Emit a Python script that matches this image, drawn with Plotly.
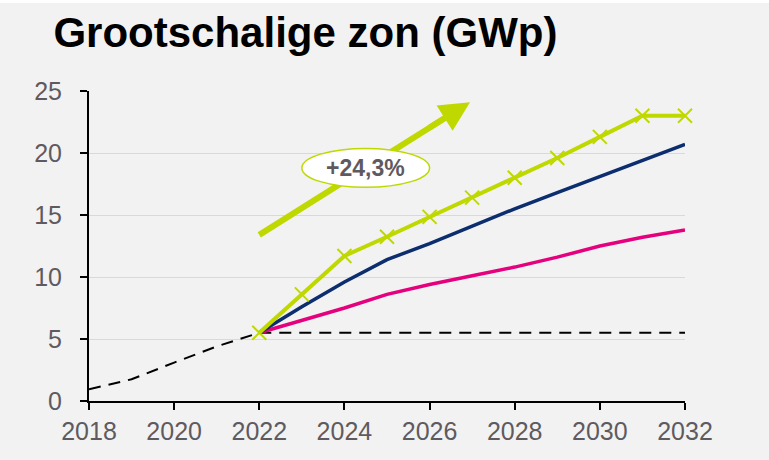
import plotly.graph_objects as go

years_hist = [2018, 2019, 2020, 2021, 2022]
hist_vals = [0.95, 1.75, 3.1, 4.4, 5.5]

years_proj = list(range(2022, 2033))
flat_vals = [5.5] * len(years_proj)
green_vals = [5.5, 8.6, 11.7, 13.25, 14.85, 16.4, 18.0, 19.6, 21.3, 23.0, 23.0]
navy_vals = [5.5, 7.6, 9.6, 11.4, 12.7, 14.1, 15.5, 16.8, 18.1, 19.4, 20.7]
pink_vals = [5.5, 6.5, 7.5, 8.6, 9.4, 10.1, 10.8, 11.6, 12.5, 13.2, 13.8]

x_ticks = [2018, 2020, 2022, 2024, 2026, 2028, 2030, 2032]
y_ticks = [0, 5, 10, 15, 20, 25]

arrow_start = (2022.0, 13.4)
arrow_end = (2026.95, 24.1)
label_text = "+24,3%"
label_center = (2024.5, 18.8)

GREEN = "#bfd800"
NAVY = "#0c2d6e"
PINK = "#e5007d"
GRAY_TXT = "#5f5a60"
BG = "#f2f2f2"

fig = go.Figure()
fig.add_trace(go.Scatter(x=years_hist, y=hist_vals, mode="lines",
                         line=dict(color="black", width=2, dash="12px,8px"),
                         cliponaxis=False, hoverinfo="skip"))
fig.add_trace(go.Scatter(x=years_proj, y=flat_vals, mode="lines",
                         line=dict(color="black", width=2, dash="12px,8px"),
                         cliponaxis=False, hoverinfo="skip"))
fig.add_trace(go.Scatter(x=years_proj, y=pink_vals, mode="lines",
                         line=dict(color=PINK, width=3.5), cliponaxis=False))
fig.add_trace(go.Scatter(x=years_proj, y=navy_vals, mode="lines",
                         line=dict(color=NAVY, width=3.5), cliponaxis=False))
fig.add_trace(go.Scatter(x=years_proj, y=green_vals, mode="lines+markers",
                         line=dict(color=GREEN, width=4),
                         marker=dict(symbol="x-thin", size=14,
                                     line=dict(color=GREEN, width=2)),
                         cliponaxis=False))

# white strip at the very top of the picture
fig.add_shape(type="rect", xref="paper", yref="paper",
              x0=-0.2, x1=1.2, y0=1.284, y1=1.35,
              fillcolor="white", line=dict(width=0), layer="below")

# arrow shaft (shape below the ellipse), ellipse label, arrow head
fig.add_shape(type="line", xref="x", yref="y",
              x0=arrow_start[0], y0=arrow_start[1],
              x1=arrow_start[0] + (arrow_end[0] - arrow_start[0]) * 0.9,
              y1=arrow_start[1] + (arrow_end[1] - arrow_start[1]) * 0.9,
              line=dict(color=GREEN, width=6), layer="above")
cx, cy = label_center
fig.add_shape(type="circle", xref="x", yref="y",
              x0=cx - 1.5, x1=cx + 1.5, y0=cy - 1.57, y1=cy + 1.57,
              fillcolor="white", line=dict(color=GREEN, width=1.5), layer="above")
fig.add_annotation(x=arrow_end[0], y=arrow_end[1], xref="x", yref="y",
                   ax=arrow_start[0] + (arrow_end[0] - arrow_start[0]) * 0.8,
                   ay=arrow_start[1] + (arrow_end[1] - arrow_start[1]) * 0.8,
                   axref="x", ayref="y", text="", showarrow=True,
                   arrowhead=2, arrowsize=1.0, arrowwidth=6, arrowcolor=GREEN)
fig.add_annotation(x=cx, y=cy, xref="x", yref="y", text="<b>" + label_text + "</b>",
                   showarrow=False,
                   font=dict(family="Liberation Sans, Arial", size=23, color=GRAY_TXT))

fig.update_layout(
    width=769, height=460,
    paper_bgcolor=BG, plot_bgcolor=BG,
    margin=dict(l=89, r=84, t=91, b=59),
    showlegend=False,
    title=dict(text="<b>Grootschalige zon (GWp)</b>", x=0.0695, xanchor="left",
               y=0.929, yanchor="middle",
               font=dict(family="Liberation Sans, Arial", size=42, color="black")),
    font=dict(family="Liberation Sans, Arial", size=25, color=GRAY_TXT),
)
fig.update_xaxes(range=[2018, 2032], tickvals=x_ticks, ticktext=[str(v) for v in x_ticks],
                 showgrid=False, zeroline=False, showline=True, linecolor="black",
                 linewidth=2, ticks="outside", ticklen=7, tickwidth=2, tickcolor="black",
                 tickfont=dict(size=25, color=GRAY_TXT), automargin=False)
fig.update_yaxes(range=[0, 25], tickvals=y_ticks, showgrid=True, gridcolor="#d9d9d9",
                 gridwidth=1, zeroline=False, showline=True, linecolor="black",
                 linewidth=2, ticks="outside", ticklen=7, tickwidth=2, tickcolor="black",
                 tickfont=dict(size=25, color=GRAY_TXT), automargin=False,
                 ticklabelstandoff=13)

fig.write_html("out.html", post_script="document.body.style.margin='0';",
               config={"displayModeBar": False})
